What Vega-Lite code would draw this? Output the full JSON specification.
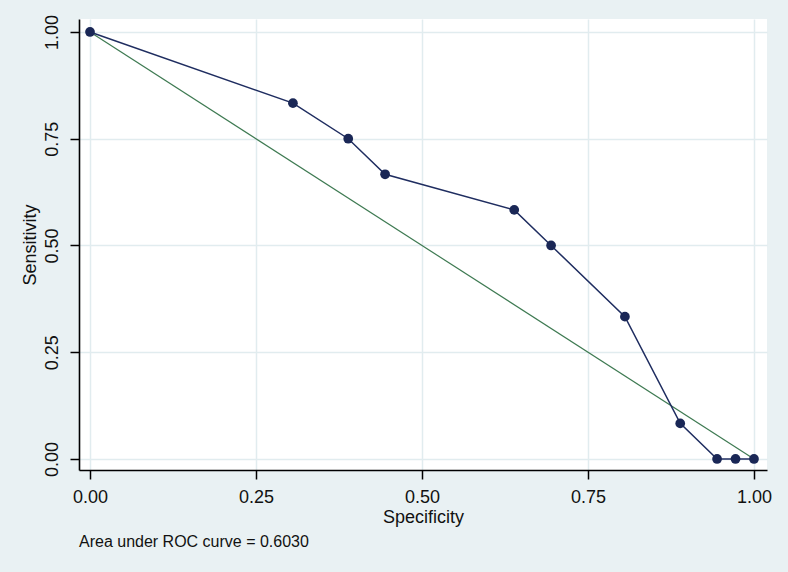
{
  "$schema": "https://vega.github.io/schema/vega-lite/v6.json",
  "width": 688,
  "height": 451,
  "autosize": {"type": "none"},
  "padding": {"left": 79, "top": 19, "right": 21, "bottom": 102},
  "background": "#E9F1F3",
  "config": {
    "view": {"fill": "white", "stroke": null},
    "font": "Liberation Sans",
    "axis": {
      "domainColor": "#000000",
      "domainWidth": 1.6,
      "tickColor": "#000000",
      "tickWidth": 1.5,
      "tickSize": 9,
      "gridColor": "#E1ECEF",
      "gridWidth": 1.5,
      "labelColor": "#111111",
      "labelFontSize": 18,
      "titleColor": "#111111",
      "titleFontSize": 18,
      "titleFontWeight": "normal"
    }
  },
  "title": {
    "text": "Area under ROC curve = 0.6030",
    "orient": "bottom",
    "anchor": "start",
    "frame": "group",
    "fontSize": 16,
    "fontWeight": "normal",
    "color": "#111111",
    "offset": 8
  },
  "data": {
    "values": [
      {"spec": 0.0, "sens": 1.0},
      {"spec": 0.3056, "sens": 0.8333},
      {"spec": 0.3889, "sens": 0.75},
      {"spec": 0.4444, "sens": 0.6667},
      {"spec": 0.6389, "sens": 0.5833},
      {"spec": 0.6944, "sens": 0.5},
      {"spec": 0.8056, "sens": 0.3333},
      {"spec": 0.8889, "sens": 0.0833},
      {"spec": 0.9444, "sens": 0.0},
      {"spec": 0.9722, "sens": 0.0},
      {"spec": 1.0, "sens": 0.0}
    ]
  },
  "encoding": {
    "x": {
      "field": "spec",
      "type": "quantitative",
      "scale": {"domain": [-0.0166, 1.0196], "nice": false, "zero": false},
      "axis": {"title": "Specificity", "values": [0, 0.25, 0.5, 0.75, 1], "format": ".2f", "labelPadding": 9, "titlePadding": 2}
    },
    "y": {
      "field": "sens",
      "type": "quantitative",
      "scale": {"domain": [-0.0258, 1.0304], "nice": false, "zero": false},
      "axis": {"title": "Sensitivity", "values": [0, 0.25, 0.5, 0.75, 1], "format": ".2f", "labelAngle": -90, "labelAlign": "center", "labelBaseline": "bottom", "labelPadding": 9, "titlePadding": 4}
    }
  },
  "layer": [
    {
      "data": {"values": [{"spec": 0, "sens": 1}, {"spec": 1, "sens": 0}]},
      "mark": {"type": "line", "color": "#3E7A52", "strokeWidth": 1.2}
    },
    {
      "mark": {"type": "line", "color": "#1F2D60", "strokeWidth": 1.5}
    },
    {
      "mark": {"type": "circle", "color": "#1A2756", "size": 95, "opacity": 1}
    }
  ]
}
